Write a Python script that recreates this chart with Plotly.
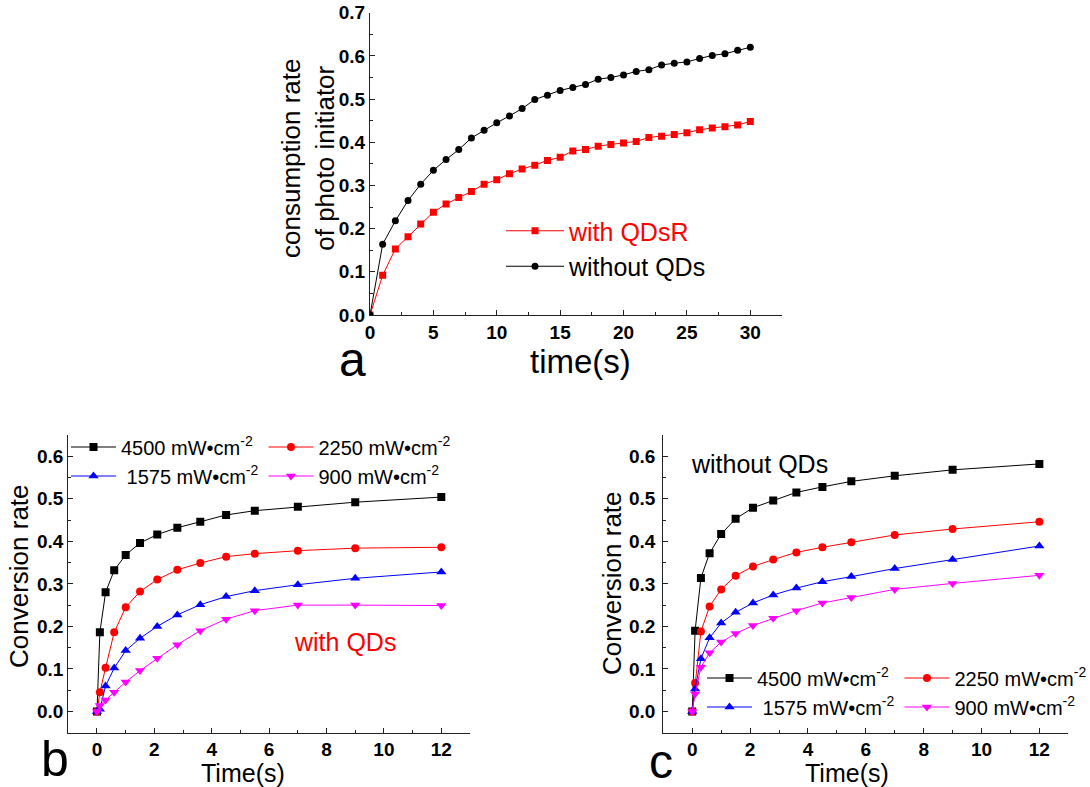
import plotly.graph_objects as go

W, H = 1090, 787

# ---------------- data ----------------
t_a = list(range(0, 31))
a_without = [0, 0.164, 0.218, 0.265, 0.303, 0.335, 0.360, 0.383, 0.410, 0.428, 0.445,
             0.461, 0.478, 0.499, 0.509, 0.520, 0.527, 0.534, 0.546, 0.550, 0.556,
             0.564, 0.568, 0.579, 0.583, 0.586, 0.594, 0.601, 0.605, 0.613, 0.620]
a_with = [0, 0.092, 0.153, 0.181, 0.211, 0.238, 0.257, 0.272, 0.286, 0.303, 0.313,
          0.327, 0.338, 0.347, 0.358, 0.365, 0.380, 0.383, 0.391, 0.395, 0.398,
          0.402, 0.411, 0.414, 0.418, 0.422, 0.429, 0.433, 0.436, 0.440, 0.448]

t_bc = [0, 0.1, 0.3, 0.6, 1.0, 1.5, 2.1, 2.8, 3.6, 4.5, 5.5, 7, 9, 12]

b_4500 = [0, 0.186, 0.280, 0.332, 0.368, 0.396, 0.416, 0.432, 0.446, 0.462, 0.472, 0.481, 0.492, 0.504]
b_2250 = [0, 0.045, 0.103, 0.186, 0.245, 0.282, 0.310, 0.333, 0.349, 0.364, 0.371, 0.378, 0.384, 0.386]
b_1575 = [0, 0.005, 0.060, 0.102, 0.143, 0.172, 0.200, 0.227, 0.251, 0.270, 0.284, 0.298, 0.313, 0.328]
b_900 = [0, 0.014, 0.027, 0.045, 0.069, 0.096, 0.125, 0.157, 0.190, 0.217, 0.237, 0.250, 0.250, 0.249]

c_4500 = [0, 0.190, 0.314, 0.372, 0.417, 0.453, 0.479, 0.496, 0.515, 0.528, 0.541, 0.554, 0.568, 0.582]
c_2250 = [0, 0.067, 0.188, 0.247, 0.287, 0.319, 0.341, 0.357, 0.374, 0.386, 0.398, 0.415, 0.429, 0.446]
c_1575 = [0, 0.053, 0.124, 0.173, 0.208, 0.233, 0.255, 0.274, 0.290, 0.305, 0.317, 0.336, 0.357, 0.389]
c_900 = [0, 0.041, 0.104, 0.138, 0.163, 0.183, 0.202, 0.219, 0.237, 0.255, 0.268, 0.287, 0.301, 0.320]

intensity_labels = ["4500 mW\u2022cm<sup>-2</sup>", "2250 mW\u2022cm<sup>-2</sup>",
                    "\u00a01575 mW\u2022cm<sup>-2</sup>", "900 mW\u2022cm<sup>-2</sup>"]
series_colors = ["#000000", "#ff0000", "#0000ff", "#ff00ff"]
series_symbols = ["square", "circle", "triangle-up", "triangle-down"]
series_groups = ["g1", "g2", "g1", "g2"]

FONT = "Arial, 'Liberation Sans', sans-serif"


def px_x(p):
    return p / W


def px_y(p):
    return 1 - p / H


fig = go.Figure()

# ---------------- panel a ----------------
fig.add_trace(go.Scatter(x=t_a, y=a_with, mode="lines+markers", xaxis="x", yaxis="y",
                         name="<span style='color:#ff0000'>with QDsR</span>",
                         line=dict(color="#ff0000", width=1),
                         marker=dict(symbol="square", size=7, color="#ff0000"),
                         legend="legend"))
fig.add_trace(go.Scatter(x=t_a, y=a_without, mode="lines+markers", xaxis="x", yaxis="y",
                         name="without QDs",
                         line=dict(color="#000000", width=1),
                         marker=dict(symbol="circle", size=7, color="#000000"),
                         legend="legend"))

# ---------------- panels b, c ----------------
for data_list, xa, ya, lg in [([b_4500, b_2250, b_1575, b_900], "x2", "y2", "legend2"),
                              ([c_4500, c_2250, c_1575, c_900], "x3", "y3", "legend3")]:
    for i, ys in enumerate(data_list):
        sz = 8 if series_symbols[i] in ("square", "circle") else 9
        fig.add_trace(go.Scatter(x=t_bc, y=ys, mode="lines+markers", xaxis=xa, yaxis=ya,
                                 name=intensity_labels[i],
                                 line=dict(color=series_colors[i], width=1),
                                 marker=dict(symbol=series_symbols[i], size=sz,
                                             color=series_colors[i]),
                                 legend=lg, legendgroup=series_groups[i] + lg))

axis_common = dict(showline=True, linecolor="#222222", linewidth=1.3, showgrid=False,
                   zeroline=False, ticks="inside", ticklen=5, tickwidth=1.2,
                   tickcolor="#222222", mirror=False, automargin=False)

tick_a = dict(family=FONT, size=19, color="black", weight="bold")
tick_bc = dict(family=FONT, size=19, color="black", weight="bold")

fig.update_layout(
    width=W, height=H,
    margin=dict(l=0, r=0, t=0, b=0, pad=0, autoexpand=False),
    paper_bgcolor="white", plot_bgcolor="white",
    font=dict(family=FONT, color="black"),
    xaxis=dict(domain=[px_x(370), px_x(782)], anchor="y", range=[0, 32.5],
               tick0=0, dtick=5, tickfont=tick_a,
               minor=dict(ticks="inside", ticklen=3, dtick=2.5, tickcolor="#222222"),
               **axis_common),
    yaxis=dict(domain=[px_y(315), px_y(12.7)], anchor="x", range=[0, 0.7],
               tick0=0, dtick=0.1, tickformat=".1f", tickfont=tick_a,
               minor=dict(ticks="inside", ticklen=3, dtick=0.05, tickcolor="#222222"),
               **axis_common),
    xaxis2=dict(domain=[px_x(68.3), px_x(470)], anchor="y2", range=[-1, 13],
                tick0=0, dtick=2, tickfont=tick_bc, ticklabelstandoff=-1,
                minor=dict(ticks="inside", ticklen=3, dtick=1, tickcolor="#222222"),
                **axis_common),
    yaxis2=dict(domain=[px_y(732.7), px_y(435)], anchor="x2", range=[-0.05, 0.65],
                tick0=0, dtick=0.1, tickformat=".1f", tickfont=tick_bc,
                minor=dict(ticks="inside", ticklen=3, dtick=0.05, tickcolor="#222222"),
                **axis_common),
    xaxis3=dict(domain=[px_x(663.3), px_x(1068.3)], anchor="y3", range=[-1, 13],
                tick0=0, dtick=2, tickfont=tick_bc, ticklabelstandoff=-1,
                minor=dict(ticks="inside", ticklen=3, dtick=1, tickcolor="#222222"),
                **axis_common),
    yaxis3=dict(domain=[px_y(732.7), px_y(435)], anchor="x3", range=[-0.05, 0.65],
                tick0=0, dtick=0.1, tickformat=".1f", tickfont=tick_bc,
                ticklabelstandoff=3,
                minor=dict(ticks="inside", ticklen=3, dtick=0.05, tickcolor="#222222"),
                **axis_common),
    legend=dict(x=px_x(501), y=px_y(208), xanchor="left", yanchor="top",
                bgcolor="rgba(0,0,0,0)", borderwidth=0, itemwidth=58,
                font=dict(family=FONT, size=25, color="black"),
                traceorder="normal", tracegroupgap=0),
    legend2=dict(x=px_x(66), y=px_y(427.5), xanchor="left", yanchor="top",
                 orientation="h", traceorder="grouped", itemwidth=45,
                 bgcolor="rgba(0,0,0,0)", borderwidth=0,
                 font=dict(family=FONT, size=20, color="black")),
    legend3=dict(x=px_x(702), y=px_y(658.5), xanchor="left", yanchor="top",
                 orientation="h", traceorder="grouped", itemwidth=45,
                 bgcolor="rgba(0,0,0,0)", borderwidth=0,
                 font=dict(family=FONT, size=20, color="black")),
)

ann = []


def add_text(text, cx, cy, size, angle=0, color="black"):
    ann.append(dict(text=text, x=px_x(cx), y=px_y(cy), xref="paper", yref="paper",
                    xanchor="center", yanchor="middle", showarrow=False, textangle=angle,
                    font=dict(family=FONT, size=size, color=color)))


add_text("consumption rate<br>of photo initiator", 308, 159, 26, angle=-90)
add_text("time(s)", 580, 361, 33)
add_text("a", 352, 360, 48)
add_text("Conversion rate", 19, 576, 26, angle=-90)
add_text("Time(s)", 243, 773, 25)
add_text("b", 55, 759, 50)
add_text("with QDs", 345, 642, 25, color="#ff0000")
add_text("Conversion rate", 612, 583, 26, angle=-90)
add_text("Time(s)", 847, 773, 25)
add_text("c", 661, 761, 48)
add_text("without QDs", 759, 464, 25)

fig.update_layout(annotations=ann)

fig.write_html("out.html", config={"displayModeBar": False},
               post_script="document.body.style.margin='0';document.body.style.padding='0';"
                           "document.body.style.overflow='hidden';")
